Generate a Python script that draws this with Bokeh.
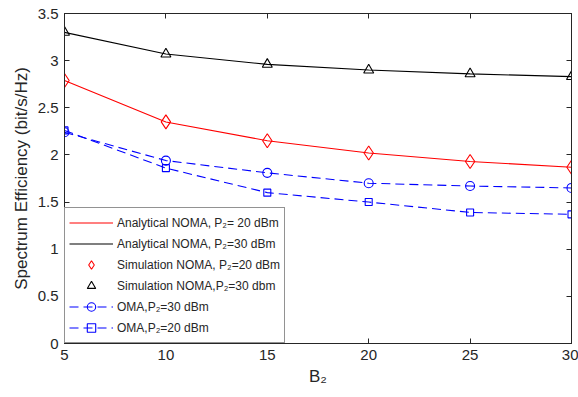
from bokeh.plotting import figure
from bokeh.models import Range1d, LinearAxis, Legend, LegendItem, FixedTicker
from bokeh.embed import file_html
from bokeh.resources import INLINE

b2 = [5, 10, 15, 20, 25, 30]
analytical_noma_20 = [2.79, 2.35, 2.15, 2.02, 1.93, 1.87]
analytical_noma_30 = [3.30, 3.07, 2.96, 2.90, 2.86, 2.83]
simulation_noma_20 = [2.79, 2.35, 2.15, 2.02, 1.93, 1.87]
simulation_noma_30 = [3.30, 3.07, 2.96, 2.90, 2.86, 2.83]
oma_30 = [2.24, 1.94, 1.81, 1.70, 1.67, 1.65]
oma_20 = [2.26, 1.86, 1.60, 1.50, 1.39, 1.37]
x_ticks = [5, 10, 15, 20, 25, 30]
y_ticks = [0, 0.5, 1, 1.5, 2, 2.5, 3, 3.5]

AX = "#262626"
FONT = "Liberation Sans"

p = figure(width=578, height=397, output_backend="svg", toolbar_location=None,
           x_range=Range1d(5, 30), y_range=Range1d(0, 3.5),
           min_border_left=64, min_border_right=7, min_border_top=13, min_border_bottom=54,
           x_axis_label="B₂", y_axis_label="Spectrum Efficiency (bit/s/Hz)")
p.grid.visible = False
p.outline_line_color = AX
p.outline_line_width = 1
p.background_fill_color = "white"
p.border_fill_color = "white"

for ax in p.xaxis + p.yaxis:
    ax.major_tick_in = 5
    ax.major_tick_out = 0
    ax.minor_tick_in = 0
    ax.minor_tick_out = 0
    ax.axis_line_color = AX
    ax.major_tick_line_color = AX
    ax.major_label_text_font = FONT
    ax.major_label_text_font_size = "15px"
    ax.major_label_text_color = AX
    ax.axis_label_text_font = FONT
    ax.axis_label_text_font_size = "17px"
    ax.axis_label_text_font_style = "normal"
    ax.axis_label_text_color = AX
p.xaxis.ticker = FixedTicker(ticks=x_ticks)
p.yaxis.ticker = FixedTicker(ticks=y_ticks)
p.xaxis.major_label_standoff = 6
p.yaxis.major_label_standoff = 6
p.xaxis.axis_label_standoff = 4
p.yaxis.axis_label_standoff = 4

top = LinearAxis(ticker=FixedTicker(ticks=x_ticks), major_tick_in=5, major_tick_out=0,
                 minor_tick_in=0, minor_tick_out=0, major_label_text_color=None,
                 major_label_text_font_size="0px", axis_line_color=AX, major_tick_line_color=AX)
right = LinearAxis(ticker=FixedTicker(ticks=y_ticks), major_tick_in=5, major_tick_out=0,
                   minor_tick_in=0, minor_tick_out=0, major_label_text_color=None,
                   major_label_text_font_size="0px", axis_line_color=AX, major_tick_line_color=AX)
p.add_layout(top, "above")
p.add_layout(right, "right")

r1 = p.line(b2, analytical_noma_20, line_color="red", line_width=1.1)
r2 = p.line(b2, analytical_noma_30, line_color="black", line_width=1.1)
r3 = p.scatter(b2, simulation_noma_20, marker="diamond", size=14, line_color="red",
               fill_color=None, line_width=1.1)
r4 = p.scatter(b2, simulation_noma_30, marker="triangle", size=10, line_color="black",
               fill_color=None, line_width=1.1)
r5l = p.line(b2, oma_30, line_color="blue", line_width=1.1, line_dash="9 5")
r5m = p.scatter(b2, oma_30, marker="circle", size=9, line_color="blue", fill_color=None, line_width=1.1)
r6l = p.line(b2, oma_20, line_color="blue", line_width=1.1, line_dash="9 5")
r6m = p.scatter(b2, oma_20, marker="square", size=7, line_color="blue", fill_color=None, line_width=1.1)

legend = Legend(items=[
    LegendItem(label="Analytical NOMA, P₂= 20 dBm", renderers=[r1]),
    LegendItem(label="Analytical NOMA, P₂=30 dBm", renderers=[r2]),
    LegendItem(label="Simulation NOMA, P₂=20 dBm", renderers=[r3]),
    LegendItem(label="Simulation NOMA,P₂=30 dbm", renderers=[r4]),
    LegendItem(label="OMA,P₂=30 dBm", renderers=[r5l, r5m]),
    LegendItem(label="OMA,P₂=20 dBm", renderers=[r6l, r6m]),
], location="bottom_left")
legend.margin = 0
legend.padding = 4
legend.spacing = 0
legend.glyph_width = 44
legend.glyph_height = 21
legend.label_height = 21
legend.label_standoff = 4
legend.label_text_font = FONT
legend.label_text_font_size = "12px"
legend.label_text_color = AX
legend.border_line_color = AX
legend.border_line_width = 1
legend.background_fill_color = "white"
legend.background_fill_alpha = 1
p.add_layout(legend, "center")

open("out.html", "w").write(file_html(p, INLINE))
